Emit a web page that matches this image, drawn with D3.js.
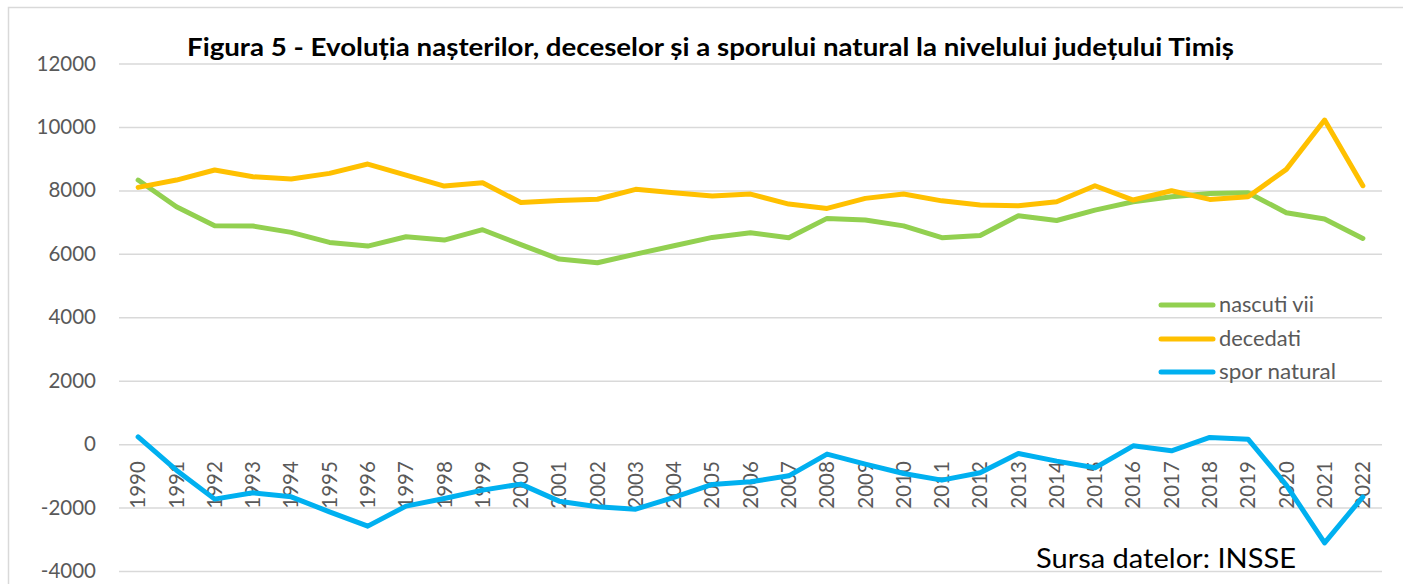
<!DOCTYPE html>
<html>
<head>
<meta charset="utf-8">
<script src="https://cdn.jsdelivr.net/npm/d3@7"></script>
<style>
  html, body { margin: 0; padding: 0; background: #fff; }
  svg { display: block; }
</style>
</head>
<body>
<svg id="chart" width="1403" height="584"></svg>
<script>
const years = ["1990","1991","1992","1993","1994","1995","1996","1997","1998","1999","2000","2001","2002","2003","2004","2005","2006","2007","2008","2009","2010","2011","2012","2013","2014","2015","2016","2017","2018","2019","2020","2021","2022"];
const nascutiVii = [8325,7484,6884,6875,6675,6360,6244,6538,6433,6760,6290,5834,5720,5992,6254,6517,6664,6507,7117,7064,6880,6510,6580,7200,7050,7379,7642,7800,7905,7926,7296,7096,6486];
const decedati = [8095,8325,8641,8430,8357,8536,8830,8483,8136,8241,7615,7680,7720,8032,7926,7821,7884,7569,7432,7748,7884,7670,7537,7516,7642,8146,7695,7989,7716,7800,8663,10218,8146];
const sporNatural = [230,-820,-1734,-1535,-1661,-2134,-2586,-1955,-1713,-1451,-1261,-1798,-1977,-2050,-1682,-1272,-1188,-999,-315,-631,-925,-1135,-904,-294,-536,-747,-53,-210,210,157,-1293,-3112,-1661];
const yTicks = [-4000,-2000,0,2000,4000,6000,8000,10000,12000];
const seriesNames = ["nascuti vii","decedati","spor natural"];
const seriesColors = ["#92D050","#FFC000","#00B0F0"];
const titleText = "Figura 5 - Evoluția nașterilor, deceselor și a sporului natural la nivelului județului Timiș";
const sourceText = "Sursa datelor: INSSE";

const svg = d3.select("#chart");
const font = "Lato, 'Open Sans', sans-serif";

// outer border
svg.append("rect").attr("x", 8.5).attr("y", 7.5).attr("width", 1600).attr("height", 800)
  .attr("fill", "none").attr("stroke", "#D9D9D9").attr("stroke-width", 1.5);

const x = d3.scaleBand().domain(years).range([119, 1382]).padding(0);
const cx = d => x(d) + x.bandwidth() / 2;
const y = d3.scaleLinear().domain([-4000, 12000]).range([571, 63.5]);

// gridlines + y labels
const yAxis = d3.axisLeft(y).tickValues(yTicks).tickSize(-(1382 - 119)).tickPadding(23).tickFormat(d => String(d));
const gy = svg.append("g").attr("transform", "translate(119,0)").call(yAxis);
gy.select(".domain").remove();
gy.selectAll(".tick line").attr("stroke", "#D9D9D9").attr("stroke-width", 1.5);
gy.selectAll(".tick text").attr("fill", "#595959").style("font-family", font).style("font-size", "20.5px");

// x labels (rotated), at axis y=0
const xAxis = d3.axisBottom(x).tickSize(0).tickPadding(0);
const gx = svg.append("g").attr("transform", `translate(0,${y(0)})`).call(xAxis);
gx.select(".domain").remove();
gx.selectAll(".tick text")
  .attr("fill", "#595959").style("font-family", font).style("font-size", "20.5px")
  .attr("transform", "rotate(-90)").attr("text-anchor", "end")
  .attr("x", -17).attr("y", 0).attr("dy", "0.35em");

// lines
const allSeries = [nascutiVii, decedati, sporNatural];
const line = d3.line().x((d, i) => cx(years[i])).y(d => y(d));
allSeries.forEach((s, k) => {
  svg.append("path").datum(s).attr("d", line)
    .attr("fill", "none").attr("stroke", seriesColors[k]).attr("stroke-width", 5)
    .attr("stroke-linejoin", "round").attr("stroke-linecap", "round");
});

// legend
const legendY = [305, 339, 372];
const legendW = [95, 82, 117];
seriesNames.forEach((n, k) => {
  svg.append("line").attr("x1", 1161).attr("x2", 1213).attr("y1", legendY[k]).attr("y2", legendY[k])
    .attr("stroke", seriesColors[k]).attr("stroke-width", 5).attr("stroke-linecap", "round");
  svg.append("text").attr("x", 1219).attr("y", legendY[k]).attr("dy", "0.35em")
    .attr("textLength", legendW[k]).attr("lengthAdjust", "spacingAndGlyphs")
    .attr("fill", "#595959").style("font-family", font).style("font-size", "20.5px").text(n);
});

// title
svg.append("text").attr("x", 187).attr("y", 56).attr("textLength", 1047).attr("lengthAdjust", "spacingAndGlyphs")
  .style("font-family", font).style("font-weight", "bold").style("font-size", "24px").attr("fill", "#000").text(titleText);

// source
svg.append("text").attr("x", 1036).attr("y", 568).attr("textLength", 260).attr("lengthAdjust", "spacingAndGlyphs")
  .style("font-family", font).style("font-size", "26px").attr("fill", "#000").text(sourceText);
</script>
</body>
</html>
